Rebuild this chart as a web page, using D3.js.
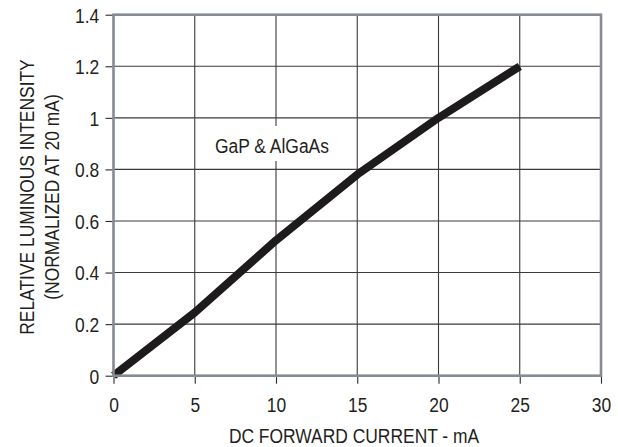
<!DOCTYPE html>
<html>
<head>
<meta charset="utf-8">
<script src="https://cdn.jsdelivr.net/npm/d3@7/dist/d3.min.js"></script>
<style>
  html, body { margin: 0; padding: 0; background: #fff; }
  svg { display: block; }
  text { font-family: "Liberation Sans", Arial, Helvetica, sans-serif; fill: #231f20; }
</style>
</head>
<body>
<svg id="chart" width="618" height="447"></svg>
<script>
// ---- data ----
const currentMA = [0, 5, 10, 15, 20, 25];
const relIntensity = [0, 0.245, 0.525, 0.78, 1.0, 1.2];
const xTicks = [0, 5, 10, 15, 20, 25, 30];
const yTicks = [0, 0.2, 0.4, 0.6, 0.8, 1, 1.2, 1.4];
const seriesLabel = "GaP & AlGaAs";
const xTitle = "DC FORWARD CURRENT - mA";
const yTitleLines = ["RELATIVE LUMINOUS INTENSITY", "(NORMALIZED AT 20 mA)"];

// ---- layout ----
const pL = 113.5, pR = 601, pT = 14.7, pB = 375.7;
const svg = d3.select("#chart");
const x = d3.scaleLinear().domain([0, 30]).range([pL, pR]);
const y = d3.scaleLinear().domain([0, 1.4]).range([pB, pT]);
const fs = 21, sx = 0.83;       // narrow sans look
const tfs = 20.5, tsx = 0.85;   // tick labels

function narrowText(parent, tx, ty, rot, str, anchor, size, scale) {
  const g = parent.append("g").attr("transform", `translate(${tx},${ty}) rotate(${rot})`);
  return g.append("text").attr("transform", `scale(${scale},1)`)
    .attr("text-anchor", anchor).attr("font-size", size).text(str);
}

// grid
const grid = svg.append("g");
grid.selectAll("line.v").data(xTicks.filter(d => d > 0 && d < 30)).join("line")
  .attr("class", "v")
  .attr("x1", d => x(d)).attr("x2", d => x(d)).attr("y1", pT).attr("y2", pB)
  .attr("stroke", "#3a3a3a").attr("stroke-width", 1.1);
grid.selectAll("line.h").data(yTicks.filter(d => d > 0 && d < 1.4)).join("line")
  .attr("class", "h")
  .attr("x1", pL).attr("x2", pR).attr("y1", d => y(d)).attr("y2", d => y(d))
  .attr("stroke", "#3a3a3a").attr("stroke-width", 1.1);

// label with white background
svg.append("rect").attr("x", 209).attr("y", 126).attr("width", 129).attr("height", 35).attr("fill", "#fff");
narrowText(svg, 215, 153.3, 0, seriesLabel, "start", fs, sx);

// curve
const line = d3.line().x((d, i) => x(currentMA[i])).y(d => y(d)).curve(d3.curveLinear);
svg.append("path").datum(relIntensity).attr("d", line)
  .attr("fill", "none").attr("stroke", "#1e1b1c").attr("stroke-width", 8)
  .attr("stroke-linecap", "butt").attr("stroke-linejoin", "round");

// axes
const xAxis = d3.axisBottom(x).tickValues(xTicks).tickSize(8).tickFormat(d3.format("d"));
const yAxis = d3.axisLeft(y).tickValues(yTicks).tickSize(8).tickFormat(d => d3.format("~g")(d));
const gx = svg.append("g").attr("transform", `translate(0,${pB})`).call(xAxis);
const gy = svg.append("g").attr("transform", `translate(${pL},0)`).call(yAxis);
[gx, gy].forEach(g => {
  g.select(".domain").remove();
  g.selectAll(".tick line").attr("stroke", "#2a2a2a").attr("stroke-width", 1.1);
  g.selectAll(".tick text").attr("font-size", tfs).attr("fill", "#231f20")
    .attr("font-family", '"Liberation Sans", Arial, sans-serif')
    .attr("x", 0).attr("y", 0);
});
gx.selectAll(".tick text").attr("dy", null).attr("transform", `translate(0,36) scale(${tsx},1)`);
gy.selectAll(".tick text").attr("dy", "0.36em").attr("transform", `translate(-14.3,0) scale(${tsx},1)`);

// frame
svg.append("rect").attr("x", pL).attr("y", pT).attr("width", pR - pL).attr("height", pB - pT)
  .attr("fill", "none").attr("stroke", "#858b90").attr("stroke-width", 2.6);

// titles
narrowText(svg, 354, 442.5, 0, xTitle, "middle", fs, sx);
narrowText(svg, 33.5, 197, -90, yTitleLines[0], "middle", fs, sx);
narrowText(svg, 58.5, 197, -90, yTitleLines[1], "middle", fs, sx);
</script>
</body>
</html>
